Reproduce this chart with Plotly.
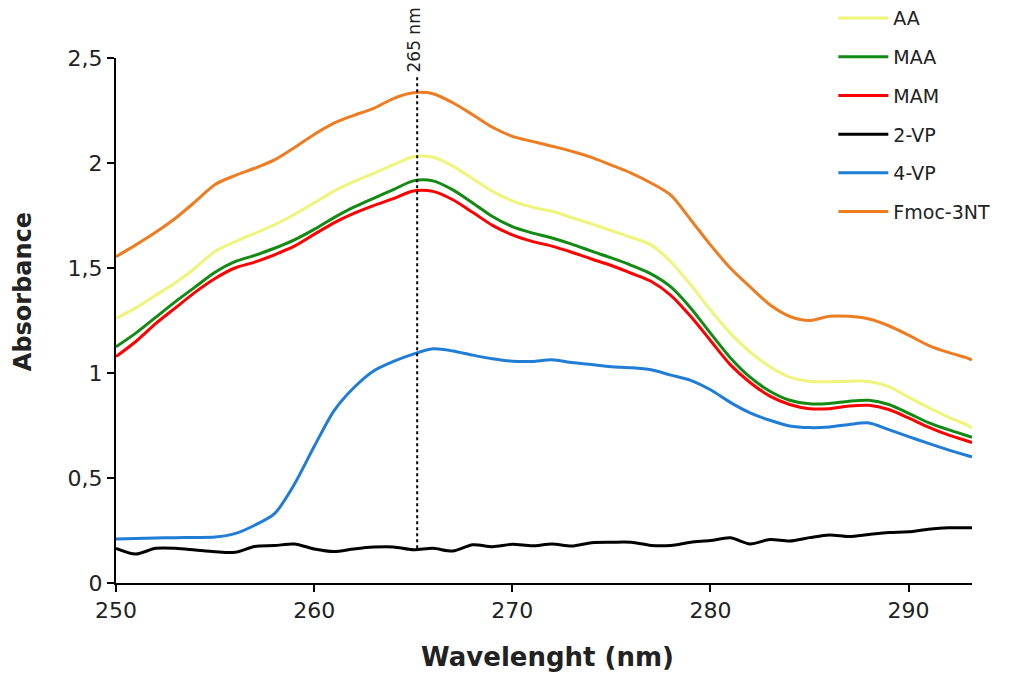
import plotly.graph_objects as go

wavelength = [250, 251, 252, 253, 254, 255, 256, 257, 258, 259, 260, 261, 262, 263, 264,
              265, 266, 267, 268, 269, 270, 271, 272, 273, 274, 275, 276, 277, 278, 279,
              280, 281, 282, 283, 284, 285, 286, 287, 288, 289, 290, 291, 292, 293, 293.2]

aa = [1.26, 1.31, 1.37, 1.43, 1.50, 1.58, 1.625, 1.665, 1.706, 1.755, 1.81, 1.866, 1.911, 1.951, 1.992,
      2.03, 2.027, 1.985, 1.925, 1.865, 1.82, 1.79, 1.77, 1.74, 1.71, 1.678, 1.646, 1.61, 1.53, 1.42,
      1.30, 1.19, 1.10, 1.03, 0.98, 0.96, 0.958, 0.961, 0.96, 0.935, 0.885, 0.835, 0.79, 0.75, 0.737]

maa = [1.125, 1.19, 1.265, 1.34, 1.41, 1.48, 1.53, 1.56, 1.594, 1.634, 1.684, 1.74, 1.79, 1.832, 1.873,
       1.915, 1.915, 1.872, 1.81, 1.745, 1.697, 1.667, 1.643, 1.614, 1.58, 1.548, 1.513, 1.472, 1.41, 1.31,
       1.19, 1.073, 0.98, 0.913, 0.87, 0.853, 0.855, 0.866, 0.87, 0.85, 0.808, 0.764, 0.73, 0.70, 0.694]

mam = [1.078, 1.15, 1.235, 1.31, 1.385, 1.45, 1.50, 1.528, 1.563, 1.604, 1.66, 1.715, 1.76, 1.797, 1.83,
       1.867, 1.865, 1.825, 1.765, 1.703, 1.658, 1.627, 1.604, 1.575, 1.543, 1.512, 1.475, 1.437, 1.37, 1.27,
       1.155, 1.04, 0.955, 0.89, 0.85, 0.83, 0.83, 0.843, 0.846, 0.826, 0.786, 0.742, 0.705, 0.675, 0.668]

vp2 = [0.165, 0.138, 0.165, 0.165, 0.157, 0.149, 0.146, 0.174, 0.178, 0.186, 0.162, 0.150, 0.162, 0.171, 0.172,
       0.158, 0.165, 0.152, 0.182, 0.173, 0.184, 0.177, 0.186, 0.176, 0.192, 0.194, 0.194, 0.179, 0.179, 0.194,
       0.202, 0.215, 0.186, 0.207, 0.200, 0.216, 0.229, 0.221, 0.231, 0.240, 0.244, 0.256, 0.263, 0.263, 0.263]

vp4 = [0.21, 0.212, 0.214, 0.216, 0.217, 0.219, 0.235, 0.275, 0.33, 0.47, 0.65, 0.82, 0.93, 1.01, 1.055,
       1.09, 1.115, 1.105, 1.085, 1.068, 1.056, 1.055, 1.063, 1.05, 1.04, 1.03, 1.025, 1.015, 0.99, 0.965,
       0.92, 0.86, 0.81, 0.775, 0.748, 0.74, 0.743, 0.755, 0.762, 0.73, 0.697, 0.665, 0.634, 0.606, 0.601]

fmoc = [1.554, 1.61, 1.67, 1.737, 1.816, 1.898, 1.94, 1.975, 2.015, 2.073, 2.136, 2.19, 2.227, 2.26, 2.307,
        2.334, 2.33, 2.287, 2.23, 2.17, 2.127, 2.103, 2.08, 2.056, 2.027, 1.99, 1.952, 1.905, 1.847, 1.73,
        1.61, 1.50, 1.41, 1.325, 1.27, 1.25, 1.27, 1.27, 1.257, 1.225, 1.18, 1.132, 1.098, 1.07, 1.062]

series = [("AA", aa, "#EEF57A"), ("MAA", maa, "#138A13"), ("MAM", mam, "#FF0000"),
          ("2-VP", vp2, "#000000"), ("4-VP", vp4, "#1F7DD6"), ("Fmoc-3NT", fmoc, "#EE7D22")]

y_ticks = [0, 0.5, 1, 1.5, 2, 2.5]
y_ticktext = ["0", "0,5", "1", "1,5", "2", "2,5"]
x_ticks = [250, 260, 270, 280, 290]

marker_x = 265.2
marker_label = "265 nm"
x_title = "Wavelenght (nm)"
y_title = "Absorbance"

FONT = "DejaVu Sans, Verdana, sans-serif"

fig = go.Figure()
for name, vals, col in series:
    fig.add_trace(go.Scatter(x=wavelength, y=vals, name=name, mode="lines",
                             line=dict(color=col, width=3, shape="spline", smoothing=0.8),
                             legendgroup=name))

fig.add_shape(type="line", xref="x", yref="y", x0=marker_x, x1=marker_x, y0=0.165, y1=2.41,
              line=dict(color="black", width=2, dash="dot"))
fig.add_annotation(x=marker_x, y=2.42, xref="x", yref="y", text=marker_label, textangle=-90,
                   showarrow=False, xanchor="center", yanchor="bottom", xshift=-3,
                   font=dict(family=FONT, size=17, color="#222"))
fig.add_annotation(x=0.504, y=-0.141, xref="paper", yref="paper", text="<b>" + x_title + "</b>",
                   showarrow=False, xanchor="center", yanchor="middle",
                   font=dict(family=FONT, size=26, color="#222"))
fig.add_annotation(x=-0.1086, y=0.554, xref="paper", yref="paper", text="<b>" + y_title + "</b>",
                   textangle=-90, showarrow=False, xanchor="center", yanchor="middle",
                   font=dict(family=FONT, size=24, color="#222"))

fig.update_layout(
    width=1024, height=675,
    margin=dict(l=108, r=60, t=50, b=100, autoexpand=False),
    plot_bgcolor="white", paper_bgcolor="white",
    font=dict(family=FONT, color="#222"),
    showlegend=True,
    legend=dict(x=0.838, y=1.112, xref="paper", yref="paper", xanchor="left", yanchor="top",
                font=dict(family=FONT, size=19, color="#222"), tracegroupgap=11,
                bgcolor="rgba(0,0,0,0)", itemwidth=50, traceorder="grouped"),
    xaxis=dict(range=[250, 293.2], tickvals=x_ticks, showgrid=False, zeroline=False,
               showline=True, linecolor="black", linewidth=2, ticks="outside", ticklen=7,
               tickwidth=2, tickcolor="black", tickfont=dict(size=22, family=FONT, color="#222")),
    yaxis=dict(range=[0, 2.5], tickvals=y_ticks, ticktext=y_ticktext, showgrid=False, zeroline=False,
               showline=True, linecolor="black", linewidth=2, ticks="outside", ticklen=7,
               tickwidth=2, tickcolor="black", tickfont=dict(size=22, family=FONT, color="#222")),
)

fig.write_html("out.html")
